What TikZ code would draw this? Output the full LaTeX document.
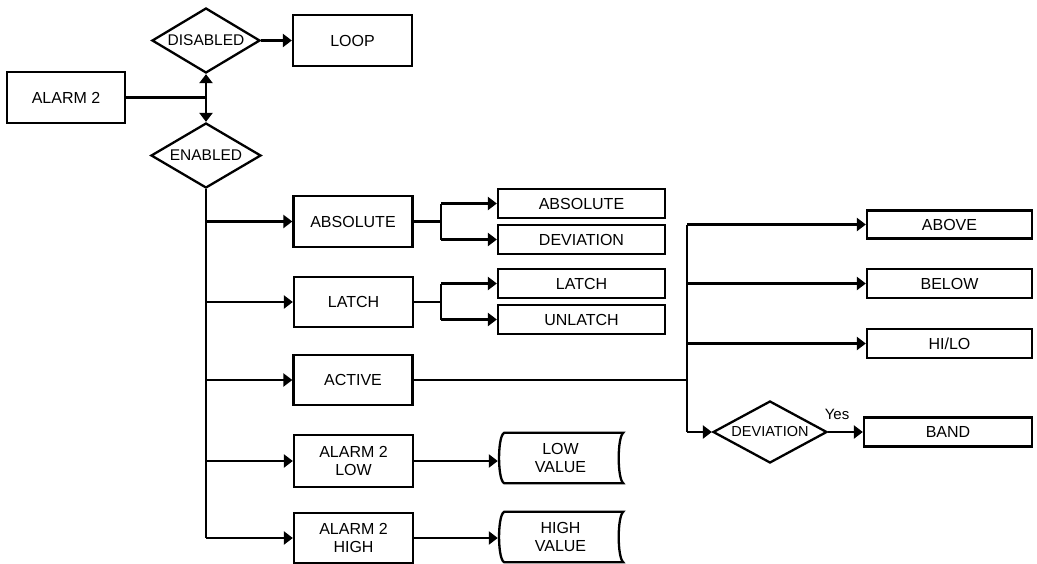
\documentclass[tikz,border=0pt]{standalone}
\usepackage{fontspec}
\setmainfont{Liberation Sans}
\usetikzlibrary{arrows.meta,shapes.geometric}
\begin{document}
\begin{tikzpicture}[x=1pt,y=-1pt,
  box/.style={draw,line width=2.3pt,inner sep=0pt,font=\fontsize{16}{18}\selectfont,align=center},
  sbox/.style={box,minimum width=167pt,minimum height=29pt},
  rbox/.style={box,minimum width=165pt,minimum height=28pt},
  mbox/.style={box,minimum width=119pt,minimum height=51pt},
  dia/.style={draw,diamond,line width=2.3pt,inner sep=0pt,font=\fontsize{15.5}{17}\selectfont},
  store/.style={inner sep=0pt,minimum width=125pt,minimum height=50pt,font=\fontsize{16}{18}\selectfont,align=center},
  arr/.style={-{Triangle[length=9pt,width=13pt]},line width=2.3pt},
  ln/.style={line width=2.3pt}]
\useasboundingbox (0,0) rectangle (1037,563);

\node[mbox,minimum width=118pt] (alarm) at (66,97.5) {ALARM 2};
\node[mbox] (loop) at (352.5,40.5) {LOOP};
\node[dia,aspect=1.66,minimum width=108pt,minimum height=65pt] (dis) at (206,40.5) {DISABLED};
\node[dia,aspect=1.69,minimum width=110pt,minimum height=65pt] (ena) at (206,155.5) {ENABLED};

\node[mbox] (abs) at (353,221.5) {ABSOLUTE};
\node[mbox,minimum height=50pt] (latch) at (353.5,302) {LATCH};
\node[mbox,minimum height=50pt] (active) at (353,380) {ACTIVE};
\node[mbox,minimum height=52pt] (low) at (353.5,461) {ALARM 2\\LOW};
\node[mbox,minimum height=50pt] (high) at (353.5,538) {ALARM 2\\HIGH};

\node[sbox] (abs1) at (581.5,203.5) {ABSOLUTE};
\node[sbox] (dev1) at (581.5,239.5) {DEVIATION};
\node[sbox] (lat1) at (581.5,283.5) {LATCH};
\node[sbox] (unl) at (581.5,319.5) {UNLATCH};

\node[rbox] (above) at (949.5,224.5) {ABOVE};
\node[rbox,minimum height=29pt] (below) at (949.5,283.5) {BELOW};
\node[rbox,minimum height=29pt] (hilo) at (949.5,343.5) {HI/LO};
\node[rbox,minimum width=168pt,minimum height=29pt] (band) at (948,432) {BAND};
\node[dia,aspect=1.84,minimum width=114pt,minimum height=62pt,font=\fontsize{14.5}{16}\selectfont] (dev) at (770,432) {DEVIATION};
\node[font=\fontsize{15}{17}\selectfont] (yes) at (837,414) {Yes};

\node[store] (lowv) at (560.5,458) {LOW\\VALUE};
\node[store] (highv) at (560.5,537) {HIGH\\VALUE};
\foreach \n in {lowv,highv}{
  \draw[ln] ([xshift=8pt]\n.north west) -- (\n.north east)
    .. controls ([xshift=-6pt,yshift=-5pt]\n.north east) and ([xshift=-6pt,yshift=5pt]\n.south east) .. (\n.south east)
    -- ([xshift=8pt]\n.south west)
    .. controls ([xshift=-1pt,yshift=-4pt]\n.south west) and ([xshift=-1pt,yshift=4pt]\n.north west) .. ([xshift=8pt]\n.north west) -- cycle;
}

% top part
\coordinate (j) at (206,97.5);
\draw[ln] (alarm.east) -- (j);
\draw[arr] (j) -- (dis.south);
\draw[arr] (j) -- (ena.north);
\draw[arr] (dis.east) -- (dis.east -| loop.west);

% trunk
\coordinate (tb) at (206,538);
\draw[ln] (ena.south) -- (tb);
\foreach \n in {abs,latch,active,low,high}{
  \draw[arr] (\n.west -| tb) -- (\n.west);
}

% branches
\coordinate (b1) at (441,221.5);
\draw[ln] (abs.east) -- (b1);
\draw[ln] (b1 |- abs1.west) -- (b1 |- dev1.west);
\draw[arr] (b1 |- abs1.west) -- (abs1.west);
\draw[arr] (b1 |- dev1.west) -- (dev1.west);

\coordinate (b2) at (441,302);
\draw[ln] (latch.east) -- (b2);
\draw[ln] (b2 |- lat1.west) -- (b2 |- unl.west);
\draw[arr] (b2 |- lat1.west) -- (lat1.west);
\draw[arr] (b2 |- unl.west) -- (unl.west);

% active
\coordinate (r) at (687,380);
\draw[ln] (active.east) -- (r);
\coordinate (rt) at (687,224.5);
\coordinate (rb) at (687,432);
\draw[ln] (rt) -- (rb);
\draw[arr] (rt) -- (above.west);
\draw[arr] (rt |- below.west) -- (below.west);
\draw[arr] (rt |- hilo.west) -- (hilo.west);
\draw[arr] (rb) -- (dev.west);
\draw[arr] (dev.east) -- (band.west);

% values
\draw[arr] (low.east) -- (low.east -| lowv.west);
\draw[arr] (high.east) -- (high.east -| highv.west);
\end{tikzpicture}
\end{document}
